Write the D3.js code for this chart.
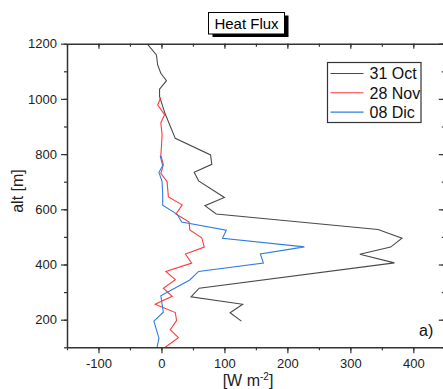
<!DOCTYPE html>
<html>
<head>
<meta charset="utf-8">
<script src="https://cdn.jsdelivr.net/npm/d3@7"></script>
<style>
  body { margin: 0; background: #fff; }
  svg { display: block; font-family: Arial, "Liberation Sans", sans-serif; }
</style>
</head>
<body>
<div id="chart"></div>
<script>
// altitude [m] / heat flux [W m-2]
const octAlt = [1200, 1159, 1123, 1093, 1066, 1035, 1008, 945, 857, 797, 763, 734, 703, 643, 613, 583, 527, 495, 463, 437, 406, 314, 283, 256, 225, 195];
const octVal = [-23, -8, -6, -1, 8, -3, -3, 6, 22, 78, 80, 52, 59, 100, 69, 87, 344, 382, 364, 315, 370, 60, 47, 129, 109, 127];

const novAlt = [1005, 978, 943, 913, 870, 827, 797, 761, 730, 700, 645, 616, 583, 554, 525, 497, 463, 438, 405, 375, 345, 314, 285, 256, 226, 197, 164, 135, 100];
const novVal = [-1, -6, 5, -1, 1, 0, -1, 3, -1, 9, 11, 33, 23, 44, 45, 64, 68, 38, 48, 7, 22, 3, 17, -10, 22, 24, 14, 27, 6];

const dicAlt = [794, 758, 734, 700, 652, 615, 582, 554, 524, 495, 464, 438, 405, 375, 344, 287, 227, 195, 133, 100];
const dicVal = [-2, 2, -4, 1, 2, 2, 25, 32, 103, 97, 227, 157, 162, 59, 45, -1, 3, -12, -4, -7];

const seriesNames = ["31 Oct", "28 Nov", "08 Dic"];
const seriesColors = ["#4a4a4a", "#ff3b3b", "#2f7ce3"];

const xTicks = [-100, 0, 100, 200, 300, 400];
const yTicks = [200, 400, 600, 800, 1000, 1200];

const width = 443, height = 389;
const plotL = 67, plotR = 444.8, plotT = 43.7, plotB = 347.3;

const svg = d3.select('#chart').append('svg')
  .attr('width', width)
  .attr('height', height);

const x = d3.scaleLinear().domain([-150, 450]).range([plotL, plotR]);
const y = d3.scaleLinear().domain([100, 1200]).range([plotB, plotT]);

svg.append('defs').append('clipPath').attr('id', 'clip')
  .append('rect')
  .attr('x', plotL).attr('y', plotT)
  .attr('width', plotR - plotL).attr('height', plotB - plotT);

// lines
const series = [
  { alt: octAlt, val: octVal },
  { alt: novAlt, val: novVal },
  { alt: dicAlt, val: dicVal }
];
const line = d3.line().x(d => x(d[1])).y(d => y(d[0]));
series.forEach((s, i) => {
  svg.append('path')
    .datum(d3.zip(s.alt, s.val))
    .attr('clip-path', 'url(#clip)')
    .attr('fill', 'none')
    .attr('stroke', seriesColors[i])
    .attr('stroke-width', 1.1)
    .attr('stroke-linejoin', 'miter')
    .attr('d', line);
});

// axes
const axisColor = '#333';
const minorX = d3.range(-150, 451, 50);
const minorY = d3.range(100, 1201, 100);
const plainFmt = d => String(d);  // keep ascii hyphen like the original

function styleAxis(g) {
  g.select('.domain').attr('stroke', axisColor).attr('stroke-width', 1.5);
  g.selectAll('.tick line').attr('stroke', axisColor).attr('stroke-width', 1.2);
  g.selectAll('.tick text').attr('fill', '#222').style('font-size', '13px');
}

// bottom
svg.append('g').attr('transform', `translate(0,${plotB})`)
  .call(d3.axisBottom(x).tickValues(minorX).tickSize(3).tickSizeOuter(0).tickFormat(''))
  .call(styleAxis);
svg.append('g').attr('transform', `translate(0,${plotB})`)
  .call(d3.axisBottom(x).tickValues(xTicks).tickSize(6).tickSizeOuter(0).tickPadding(5).tickFormat(plainFmt))
  .call(styleAxis)
  .call(g => g.select('.domain').remove());

// top (inward)
svg.append('g').attr('transform', `translate(0,${plotT})`)
  .call(d3.axisBottom(x).tickValues(minorX).tickSize(3).tickSizeOuter(0).tickFormat(''))
  .call(styleAxis);
svg.append('g').attr('transform', `translate(0,${plotT})`)
  .call(d3.axisBottom(x).tickValues(xTicks).tickSize(5).tickSizeOuter(0).tickFormat(''))
  .call(styleAxis)
  .call(g => g.select('.domain').remove());

// left
svg.append('g').attr('transform', `translate(${plotL},0)`)
  .call(d3.axisLeft(y).tickValues(minorY).tickSize(3).tickSizeOuter(0).tickFormat(''))
  .call(styleAxis);
svg.append('g').attr('transform', `translate(${plotL},0)`)
  .call(d3.axisLeft(y).tickValues(yTicks).tickSize(6).tickSizeOuter(0).tickPadding(4).tickFormat(plainFmt))
  .call(styleAxis)
  .call(g => g.select('.domain').remove());

// right (inward)
svg.append('g').attr('transform', `translate(${plotR},0)`)
  .call(d3.axisLeft(y).tickValues(minorY).tickSize(3).tickSizeOuter(0).tickFormat(''))
  .call(styleAxis);
svg.append('g').attr('transform', `translate(${plotR},0)`)
  .call(d3.axisLeft(y).tickValues(yTicks).tickSize(6).tickSizeOuter(0).tickFormat(''))
  .call(styleAxis)
  .call(g => g.select('.domain').remove());

// axis titles
svg.append('text')
  .attr('transform', `translate(23,191) rotate(-90)`)
  .attr('text-anchor', 'middle')
  .style('font-size', '16px')
  .attr('fill', '#222')
  .text('alt [m]');

const xl = svg.append('text')
  .attr('x', 248).attr('y', 386)
  .attr('text-anchor', 'middle')
  .style('font-size', '16px')
  .attr('fill', '#222');
xl.append('tspan').text('[W m');
xl.append('tspan').attr('dy', -6).style('font-size', '10px').text('-2');
xl.append('tspan').attr('dy', 6).text(']');

// panel tag
svg.append('text')
  .attr('x', 419).attr('y', 336)
  .style('font-size', '16px')
  .attr('fill', '#111')
  .text('a)');

// title box with shadow
const tb = { x: 208.5, y: 12.5, w: 76, h: 21.5 };
svg.append('rect')
  .attr('x', tb.x + 4).attr('y', tb.y + 3)
  .attr('width', tb.w).attr('height', tb.h)
  .attr('fill', '#000');
svg.append('rect')
  .attr('x', tb.x).attr('y', tb.y)
  .attr('width', tb.w).attr('height', tb.h)
  .attr('fill', '#fff').attr('stroke', '#000').attr('stroke-width', 1);
svg.append('text')
  .attr('x', tb.x + tb.w / 2).attr('y', tb.y + 16.5)
  .attr('text-anchor', 'middle')
  .style('font-size', '15px')
  .attr('fill', '#000')
  .text('Heat Flux');

// legend
const lg = svg.append('g').attr('transform', 'translate(327.5,62.5)');
lg.append('rect')
  .attr('width', 93.5).attr('height', 60)
  .attr('fill', '#fff').attr('stroke', '#333').attr('stroke-width', 1.2);
seriesNames.forEach((name, i) => {
  const cy = 11 + i * 19.3;
  lg.append('line')
    .attr('x1', 3).attr('x2', 36)
    .attr('y1', cy).attr('y2', cy)
    .attr('stroke', seriesColors[i]).attr('stroke-width', 1.1);
  lg.append('text')
    .attr('x', 42).attr('y', cy + 5.7)
    .style('font-size', '16px')
    .attr('fill', '#111')
    .text(name);
});
</script>
</body>
</html>
